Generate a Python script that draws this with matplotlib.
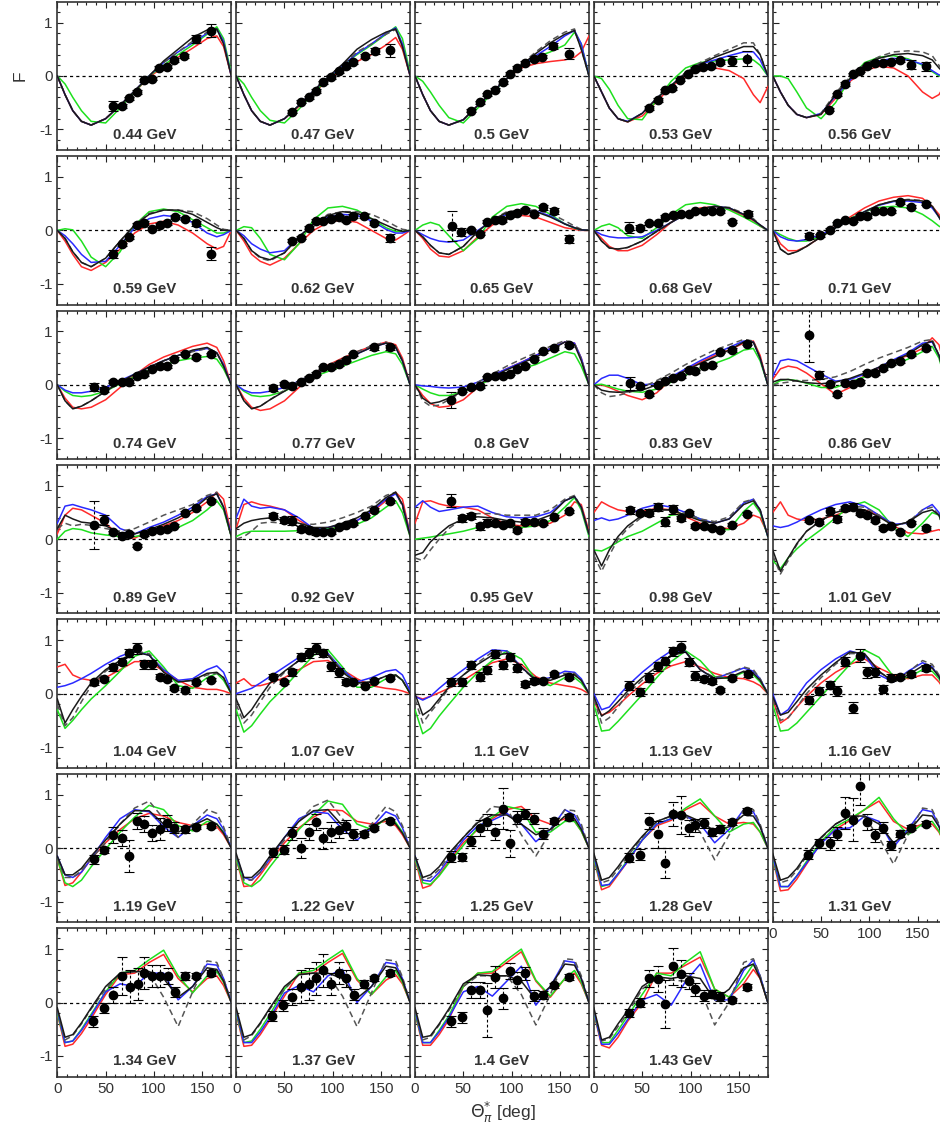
import matplotlib
matplotlib.use("Agg")
import matplotlib.pyplot as plt
from matplotlib.ticker import MultipleLocator

plt.rcParams['font.family'] = ['Liberation Sans', 'DejaVu Sans']

ENERGIES = ["0.44", "0.47", "0.5", "0.53", "0.56",
            "0.59", "0.62", "0.65", "0.68", "0.71",
            "0.74", "0.77", "0.8", "0.83", "0.86",
            "0.89", "0.92", "0.95", "0.98", "1.01",
            "1.04", "1.07", "1.1", "1.13", "1.16",
            "1.19", "1.22", "1.25", "1.28", "1.31",
            "1.34", "1.37", "1.4", "1.43"]

ANGLES = [0, 8, 16, 25, 35, 50, 65, 80, 95, 110, 125, 140, 155, 165, 172, 180]

BLACK = [
    [0, -0.35, -0.65, -0.85, -0.92, -0.8, -0.55, -0.28, 0.0, 0.28, 0.5, 0.72, 0.86, 0.88, 0.6, 0],
    [0, -0.35, -0.65, -0.85, -0.92, -0.8, -0.55, -0.28, -0.02, 0.22, 0.5, 0.68, 0.82, 0.88, 0.55, 0],
    [0, -0.35, -0.65, -0.85, -0.92, -0.82, -0.55, -0.3, -0.05, 0.2, 0.42, 0.62, 0.78, 0.85, 0.5, 0],
    [0, -0.3, -0.6, -0.8, -0.86, -0.7, -0.42, -0.18, 0.05, 0.22, 0.35, 0.45, 0.55, 0.55, 0.4, 0],
    [0, -0.3, -0.55, -0.72, -0.78, -0.72, -0.35, -0.05, 0.2, 0.33, 0.4, 0.42, 0.38, 0.3, 0.15, 0],
    [0, -0.15, -0.4, -0.6, -0.68, -0.52, -0.2, 0.1, 0.3, 0.38, 0.38, 0.3, 0.15, 0.05, 0.0, 0],
    [0, -0.15, -0.38, -0.5, -0.55, -0.42, -0.12, 0.12, 0.28, 0.35, 0.32, 0.22, 0.1, 0.02, -0.02, 0],
    [0, -0.12, -0.28, -0.42, -0.45, -0.3, -0.02, 0.2, 0.33, 0.38, 0.35, 0.25, 0.12, 0.05, 0.01, 0],
    [0, -0.2, -0.33, -0.35, -0.32, -0.2, -0.02, 0.15, 0.3, 0.4, 0.45, 0.42, 0.3, 0.2, 0.1, 0],
    [0, -0.35, -0.45, -0.4, -0.3, -0.12, 0.05, 0.2, 0.35, 0.48, 0.55, 0.57, 0.55, 0.45, 0.25, 0],
    [0, -0.3, -0.45, -0.4, -0.3, -0.12, 0.05, 0.2, 0.33, 0.45, 0.55, 0.65, 0.7, 0.6, 0.35, 0],
    [0, -0.3, -0.45, -0.4, -0.28, -0.12, 0.05, 0.2, 0.33, 0.45, 0.58, 0.7, 0.78, 0.7, 0.45, 0],
    [0, -0.25, -0.35, -0.32, -0.25, -0.12, 0.0, 0.15, 0.28, 0.4, 0.52, 0.65, 0.8, 0.75, 0.45, 0],
    [0, -0.1, -0.13, -0.14, -0.13, -0.1, 0.0, 0.13, 0.27, 0.4, 0.52, 0.65, 0.8, 0.8, 0.5, 0],
    [0.05, 0.1, 0.1, 0.07, 0.04, 0.02, 0.05, 0.12, 0.22, 0.33, 0.45, 0.57, 0.75, 0.82, 0.55, 0],
    [0.2, 0.45, 0.38, 0.32, 0.3, 0.25, 0.12, 0.1, 0.18, 0.28, 0.4, 0.55, 0.78, 0.85, 0.6, 0.05],
    [0.2, 0.3, 0.35, 0.38, 0.4, 0.35, 0.3, 0.22, 0.22, 0.3, 0.4, 0.55, 0.78, 0.88, 0.65, 0.05],
    [-0.3, -0.25, -0.05, 0.1, 0.25, 0.38, 0.42, 0.4, 0.35, 0.32, 0.35, 0.45, 0.72, 0.8, 0.6, 0.1],
    [-0.2, -0.5, -0.2, 0.05, 0.25, 0.45, 0.55, 0.55, 0.45, 0.35, 0.3, 0.38, 0.65, 0.72, 0.55, 0.05],
    [-0.2, -0.6, -0.35, -0.08, 0.15, 0.35, 0.5, 0.58, 0.55, 0.42, 0.25, 0.32, 0.5, 0.55, 0.45, 0.05],
    [-0.1, -0.55, -0.3, -0.05, 0.2, 0.45, 0.62, 0.78, 0.72, 0.4, 0.22, 0.25, 0.38, 0.4, 0.3, 0],
    [-0.1, -0.45, -0.3, -0.05, 0.2, 0.42, 0.62, 0.78, 0.72, 0.4, 0.2, 0.22, 0.33, 0.35, 0.25, 0],
    [0, -0.4, -0.3, -0.1, 0.12, 0.35, 0.55, 0.72, 0.75, 0.5, 0.25, 0.25, 0.35, 0.35, 0.25, 0],
    [-0.05, -0.42, -0.32, -0.15, 0.05, 0.3, 0.5, 0.72, 0.78, 0.45, 0.28, 0.3, 0.42, 0.38, 0.25, 0],
    [-0.05, -0.4, -0.35, -0.15, 0.08, 0.35, 0.58, 0.78, 0.75, 0.42, 0.22, 0.35, 0.52, 0.48, 0.32, 0],
    [-0.15, -0.5, -0.5, -0.38, -0.15, 0.15, 0.45, 0.7, 0.7, 0.45, 0.3, 0.42, 0.55, 0.45, 0.28, 0],
    [-0.1, -0.55, -0.55, -0.4, -0.15, 0.2, 0.5, 0.7, 0.72, 0.42, 0.25, 0.38, 0.55, 0.45, 0.28, 0],
    [-0.15, -0.55, -0.5, -0.35, -0.1, 0.2, 0.48, 0.62, 0.62, 0.45, 0.25, 0.35, 0.6, 0.55, 0.35, 0],
    [-0.1, -0.6, -0.55, -0.35, -0.1, 0.22, 0.5, 0.6, 0.62, 0.5, 0.32, 0.4, 0.62, 0.6, 0.4, 0],
    [-0.1, -0.6, -0.55, -0.38, -0.12, 0.2, 0.45, 0.6, 0.6, 0.45, 0.1, 0.3, 0.62, 0.6, 0.4, 0],
    [-0.1, -0.65, -0.6, -0.38, -0.1, 0.3, 0.55, 0.58, 0.58, 0.45, 0.1, 0.3, 0.65, 0.62, 0.4, 0],
    [-0.1, -0.65, -0.6, -0.38, -0.1, 0.3, 0.52, 0.55, 0.55, 0.45, 0.08, 0.3, 0.68, 0.65, 0.42, 0],
    [-0.1, -0.65, -0.62, -0.4, -0.12, 0.35, 0.52, 0.5, 0.5, 0.4, 0.05, 0.3, 0.72, 0.7, 0.45, 0],
    [-0.1, -0.7, -0.65, -0.4, -0.15, 0.3, 0.48, 0.45, 0.5, 0.45, 0.05, 0.25, 0.65, 0.72, 0.45, 0],
]

DASHED = [
    [0, -0.35, -0.65, -0.85, -0.92, -0.8, -0.55, -0.28, 0.0, 0.25, 0.45, 0.65, 0.82, 0.87, 0.6, 0],
    [0, -0.35, -0.65, -0.85, -0.92, -0.8, -0.55, -0.28, -0.02, 0.2, 0.45, 0.6, 0.78, 0.87, 0.55, 0],
    [0, -0.35, -0.65, -0.85, -0.92, -0.82, -0.55, -0.3, -0.05, 0.22, 0.45, 0.66, 0.82, 0.88, 0.5, 0],
    [0, -0.3, -0.6, -0.8, -0.86, -0.7, -0.42, -0.18, 0.06, 0.25, 0.38, 0.5, 0.62, 0.62, 0.4, 0],
    [0, -0.3, -0.55, -0.72, -0.78, -0.7, -0.32, -0.02, 0.22, 0.36, 0.45, 0.47, 0.45, 0.38, 0.2, 0],
    [0, -0.15, -0.4, -0.6, -0.68, -0.52, -0.2, 0.1, 0.32, 0.38, 0.38, 0.35, 0.22, 0.1, 0.02, 0],
    [0, -0.15, -0.38, -0.52, -0.57, -0.42, -0.12, 0.12, 0.3, 0.35, 0.35, 0.3, 0.18, 0.08, 0.02, 0],
    [0, -0.12, -0.28, -0.42, -0.45, -0.3, -0.02, 0.2, 0.35, 0.38, 0.38, 0.32, 0.18, 0.08, 0.02, 0],
    [0, -0.2, -0.33, -0.35, -0.32, -0.2, -0.02, 0.15, 0.3, 0.4, 0.45, 0.43, 0.32, 0.22, 0.1, 0],
    [0, -0.35, -0.45, -0.4, -0.3, -0.12, 0.05, 0.2, 0.35, 0.48, 0.55, 0.58, 0.56, 0.46, 0.25, 0],
    [0, -0.3, -0.45, -0.4, -0.3, -0.12, 0.05, 0.2, 0.33, 0.45, 0.55, 0.62, 0.68, 0.6, 0.35, 0],
    [0, -0.3, -0.45, -0.4, -0.28, -0.1, 0.07, 0.22, 0.36, 0.48, 0.62, 0.73, 0.8, 0.72, 0.45, 0],
    [0, -0.3, -0.4, -0.38, -0.28, -0.12, 0.05, 0.2, 0.35, 0.48, 0.6, 0.72, 0.83, 0.78, 0.48, 0],
    [0, -0.15, -0.22, -0.2, -0.15, -0.05, 0.08, 0.22, 0.38, 0.52, 0.65, 0.75, 0.85, 0.82, 0.5, 0],
    [0, 0.03, 0.05, 0.08, 0.08, 0.1, 0.15, 0.25, 0.38, 0.5, 0.6, 0.7, 0.82, 0.85, 0.55, 0],
    [0.2, 0.3, 0.25, 0.28, 0.26, 0.2, 0.15, 0.2, 0.32, 0.45, 0.55, 0.65, 0.82, 0.88, 0.6, 0.05],
    [0, 0.05, 0.15, 0.3, 0.32, 0.3, 0.28, 0.28, 0.32, 0.4, 0.5, 0.62, 0.82, 0.88, 0.62, 0.05],
    [-0.35, -0.4, -0.2, 0.0, 0.2, 0.4, 0.48, 0.48, 0.45, 0.45, 0.45, 0.55, 0.75, 0.82, 0.6, 0.1],
    [-0.3, -0.6, -0.3, 0.0, 0.2, 0.42, 0.55, 0.55, 0.48, 0.38, 0.33, 0.42, 0.7, 0.75, 0.55, 0.05],
    [-0.3, -0.65, -0.4, -0.1, 0.15, 0.35, 0.52, 0.62, 0.6, 0.45, 0.25, 0.32, 0.55, 0.6, 0.45, 0.05],
    [-0.2, -0.6, -0.45, -0.15, 0.15, 0.42, 0.62, 0.8, 0.75, 0.42, 0.22, 0.25, 0.35, 0.38, 0.3, 0],
    [-0.2, -0.55, -0.4, -0.15, 0.12, 0.4, 0.62, 0.82, 0.75, 0.42, 0.2, 0.22, 0.33, 0.35, 0.25, 0],
    [-0.1, -0.55, -0.35, -0.15, 0.1, 0.35, 0.58, 0.78, 0.78, 0.48, 0.25, 0.28, 0.38, 0.38, 0.25, 0],
    [-0.1, -0.55, -0.45, -0.25, 0.0, 0.25, 0.5, 0.72, 0.78, 0.45, 0.3, 0.38, 0.5, 0.45, 0.28, 0],
    [-0.1, -0.5, -0.45, -0.25, 0.0, 0.3, 0.55, 0.75, 0.75, 0.4, 0.25, 0.4, 0.62, 0.55, 0.35, 0],
    [-0.2, -0.55, -0.55, -0.42, -0.2, 0.1, 0.45, 0.75, 0.88, 0.55, 0.2, 0.45, 0.72, 0.65, 0.4, 0],
    [-0.15, -0.6, -0.6, -0.45, -0.2, 0.15, 0.5, 0.78, 0.9, 0.55, 0.2, 0.45, 0.78, 0.68, 0.42, 0],
    [-0.15, -0.6, -0.55, -0.4, -0.15, 0.2, 0.5, 0.78, 0.75, 0.25, -0.15, 0.3, 0.72, 0.7, 0.45, 0],
    [-0.15, -0.65, -0.6, -0.4, -0.15, 0.2, 0.5, 0.6, 0.6, 0.3, -0.22, 0.25, 0.72, 0.72, 0.45, 0],
    [-0.15, -0.65, -0.6, -0.42, -0.15, 0.18, 0.45, 0.6, 0.58, 0.2, -0.3, 0.25, 0.75, 0.72, 0.45, 0],
    [-0.15, -0.7, -0.62, -0.4, -0.12, 0.25, 0.55, 0.58, 0.55, 0.1, -0.45, 0.2, 0.78, 0.75, 0.45, 0],
    [-0.15, -0.7, -0.62, -0.4, -0.12, 0.25, 0.52, 0.55, 0.52, 0.12, -0.45, 0.18, 0.8, 0.78, 0.48, 0],
    [-0.15, -0.7, -0.65, -0.42, -0.15, 0.3, 0.5, 0.5, 0.5, 0.15, -0.42, 0.15, 0.82, 0.8, 0.5, 0],
    [-0.15, -0.72, -0.68, -0.45, -0.2, 0.25, 0.45, 0.42, 0.4, 0.25, -0.42, 0.0, 0.75, 0.82, 0.5, 0],
]

RED = [
    [0, -0.35, -0.65, -0.85, -0.92, -0.8, -0.55, -0.3, -0.02, 0.17, 0.35, 0.52, 0.7, 0.75, 0.55, 0],
    [0, -0.35, -0.65, -0.85, -0.92, -0.8, -0.57, -0.32, -0.08, 0.12, 0.27, 0.4, 0.58, 0.72, 0.5, 0],
    [0, -0.35, -0.65, -0.85, -0.92, -0.82, -0.55, -0.3, -0.05, 0.15, 0.23, 0.27, 0.3, 0.35, 0.45, 0.75],
    [0, -0.3, -0.6, -0.8, -0.86, -0.75, -0.48, -0.2, 0.0, 0.1, 0.15, 0.1, -0.05, -0.35, -0.5, -0.2],
    [0, -0.3, -0.55, -0.72, -0.78, -0.72, -0.42, -0.1, 0.1, 0.18, 0.15, 0.0, -0.3, -0.42, -0.35, -0.1],
    [0, -0.2, -0.45, -0.68, -0.75, -0.6, -0.35, -0.05, 0.12, 0.17, 0.1, -0.05, -0.25, -0.35, -0.3, 0],
    [0, -0.2, -0.45, -0.58, -0.65, -0.52, -0.25, 0.0, 0.15, 0.2, 0.15, 0.0, -0.15, -0.18, -0.1, 0],
    [0, -0.15, -0.35, -0.48, -0.5, -0.38, -0.12, 0.1, 0.22, 0.28, 0.25, 0.15, 0.05, 0.02, 0.0, 0],
    [0, -0.15, -0.3, -0.38, -0.38, -0.28, -0.08, 0.15, 0.32, 0.42, 0.45, 0.4, 0.28, 0.18, 0.08, 0],
    [0, -0.25, -0.38, -0.38, -0.3, -0.12, 0.08, 0.25, 0.42, 0.55, 0.62, 0.65, 0.6, 0.45, 0.3, 0],
    [0, -0.25, -0.42, -0.45, -0.42, -0.28, -0.05, 0.18, 0.38, 0.52, 0.62, 0.72, 0.78, 0.7, 0.45, 0],
    [0, -0.25, -0.42, -0.48, -0.45, -0.3, -0.05, 0.2, 0.37, 0.5, 0.62, 0.72, 0.8, 0.75, 0.5, 0],
    [0, -0.2, -0.35, -0.42, -0.4, -0.28, -0.05, 0.17, 0.3, 0.42, 0.55, 0.68, 0.8, 0.78, 0.5, 0],
    [0, 0.0, -0.05, -0.12, -0.2, -0.28, -0.15, 0.1, 0.28, 0.42, 0.55, 0.65, 0.78, 0.82, 0.55, 0],
    [0.1, 0.3, 0.35, 0.32, 0.22, 0.02, -0.18, -0.05, 0.18, 0.32, 0.45, 0.55, 0.68, 0.88, 0.75, 0.2],
    [0.1, 0.45, 0.58, 0.55, 0.45, 0.3, 0.05, 0.02, 0.15, 0.25, 0.35, 0.5, 0.7, 0.88, 0.75, 0.1],
    [0.2, 0.65, 0.7, 0.65, 0.62, 0.55, 0.35, 0.2, 0.2, 0.28, 0.35, 0.5, 0.72, 0.88, 0.75, 0.1],
    [0.3, 0.7, 0.72, 0.66, 0.62, 0.6, 0.55, 0.4, 0.28, 0.25, 0.25, 0.3, 0.45, 0.7, 0.65, 0.15],
    [0.5, 0.7, 0.62, 0.55, 0.52, 0.52, 0.58, 0.55, 0.42, 0.3, 0.22, 0.2, 0.3, 0.45, 0.4, 0.1],
    [0.5, 0.7, 0.45, 0.38, 0.35, 0.38, 0.45, 0.55, 0.55, 0.45, 0.25, 0.12, 0.1, 0.15, 0.18, 0.1],
    [0.5, 0.55, 0.35, 0.28, 0.25, 0.3, 0.45, 0.6, 0.6, 0.42, 0.25, 0.12, 0.08, 0.08, 0.05, 0],
    [0.2, 0.28, 0.15, 0.15, 0.2, 0.3, 0.45, 0.6, 0.62, 0.45, 0.28, 0.15, 0.1, 0.08, 0.05, 0],
    [-0.05, -0.1, -0.05, 0.02, 0.1, 0.25, 0.42, 0.58, 0.65, 0.55, 0.32, 0.2, 0.15, 0.12, 0.08, 0],
    [-0.15, -0.4, -0.35, -0.22, -0.05, 0.18, 0.38, 0.52, 0.6, 0.5, 0.38, 0.3, 0.28, 0.22, 0.15, 0],
    [-0.1, -0.55, -0.45, -0.25, -0.05, 0.2, 0.4, 0.55, 0.65, 0.48, 0.35, 0.28, 0.35, 0.35, 0.22, 0],
    [-0.2, -0.7, -0.65, -0.45, -0.2, 0.1, 0.35, 0.55, 0.65, 0.6, 0.48, 0.42, 0.45, 0.4, 0.25, 0],
    [-0.2, -0.72, -0.7, -0.5, -0.25, 0.1, 0.38, 0.58, 0.72, 0.7, 0.5, 0.45, 0.5, 0.42, 0.25, 0],
    [-0.2, -0.75, -0.7, -0.5, -0.25, 0.1, 0.35, 0.55, 0.72, 0.78, 0.55, 0.45, 0.55, 0.5, 0.32, 0],
    [-0.2, -0.78, -0.72, -0.5, -0.25, 0.15, 0.42, 0.52, 0.72, 0.85, 0.6, 0.45, 0.48, 0.45, 0.3, 0],
    [-0.2, -0.8, -0.78, -0.58, -0.3, 0.1, 0.35, 0.52, 0.72, 0.88, 0.5, 0.35, 0.45, 0.45, 0.3, 0],
    [-0.2, -0.82, -0.78, -0.58, -0.3, 0.15, 0.52, 0.55, 0.75, 0.9, 0.45, 0.2, 0.45, 0.5, 0.32, 0],
    [-0.2, -0.82, -0.8, -0.6, -0.32, 0.12, 0.55, 0.55, 0.75, 0.92, 0.42, 0.15, 0.42, 0.52, 0.35, 0],
    [-0.2, -0.8, -0.8, -0.6, -0.32, 0.3, 0.55, 0.55, 0.75, 0.95, 0.4, 0.1, 0.45, 0.55, 0.35, 0],
    [-0.2, -0.8, -0.85, -0.65, -0.35, 0.0, 0.55, 0.55, 0.7, 0.85, 0.25, 0.1, 0.35, 0.62, 0.45, 0],
]

BLUE = [
    [0, -0.35, -0.65, -0.85, -0.92, -0.8, -0.55, -0.28, 0.0, 0.25, 0.45, 0.62, 0.8, 0.88, 0.65, 0],
    [0, -0.35, -0.65, -0.85, -0.92, -0.8, -0.55, -0.28, -0.03, 0.2, 0.42, 0.6, 0.8, 0.9, 0.6, 0],
    [0, -0.35, -0.65, -0.85, -0.92, -0.82, -0.55, -0.3, -0.05, 0.2, 0.38, 0.55, 0.75, 0.85, 0.6, 0],
    [0, -0.3, -0.6, -0.8, -0.85, -0.7, -0.42, -0.18, 0.05, 0.22, 0.3, 0.38, 0.45, 0.45, 0.3, 0],
    [0, -0.3, -0.55, -0.72, -0.78, -0.7, -0.38, -0.08, 0.18, 0.28, 0.33, 0.3, 0.22, 0.1, 0.02, 0],
    [0, -0.1, -0.25, -0.45, -0.6, -0.58, -0.28, 0.05, 0.22, 0.28, 0.25, 0.15, -0.05, -0.12, -0.08, 0],
    [0, -0.1, -0.25, -0.35, -0.42, -0.38, -0.12, 0.12, 0.25, 0.3, 0.28, 0.18, 0.02, -0.05, -0.05, 0],
    [0, -0.08, -0.15, -0.2, -0.22, -0.18, 0.0, 0.18, 0.3, 0.38, 0.36, 0.27, 0.12, 0.05, 0.01, 0],
    [0, -0.08, -0.12, -0.14, -0.14, -0.12, 0.0, 0.15, 0.3, 0.4, 0.45, 0.42, 0.3, 0.2, 0.1, 0],
    [0, -0.12, -0.18, -0.2, -0.17, -0.08, 0.05, 0.2, 0.35, 0.47, 0.54, 0.55, 0.52, 0.42, 0.25, 0],
    [0, -0.1, -0.15, -0.15, -0.12, -0.05, 0.08, 0.2, 0.33, 0.45, 0.55, 0.63, 0.68, 0.6, 0.38, 0],
    [0, -0.1, -0.15, -0.15, -0.12, -0.05, 0.07, 0.2, 0.33, 0.45, 0.58, 0.7, 0.78, 0.7, 0.45, 0],
    [0, -0.02, -0.03, -0.05, -0.06, -0.04, 0.05, 0.18, 0.3, 0.42, 0.55, 0.68, 0.8, 0.78, 0.5, 0],
    [0, 0.12, 0.18, 0.18, 0.12, 0.0, 0.02, 0.15, 0.3, 0.45, 0.58, 0.7, 0.82, 0.8, 0.5, 0],
    [0.15, 0.45, 0.48, 0.45, 0.35, 0.2, 0.07, 0.1, 0.2, 0.33, 0.47, 0.6, 0.78, 0.8, 0.55, 0.15],
    [0.3, 0.62, 0.65, 0.6, 0.55, 0.45, 0.2, 0.1, 0.22, 0.32, 0.45, 0.6, 0.8, 0.85, 0.6, 0.1],
    [0.4, 0.75, 0.62, 0.58, 0.6, 0.55, 0.4, 0.2, 0.22, 0.28, 0.35, 0.52, 0.75, 0.85, 0.65, 0.1],
    [0.6, 0.72, 0.6, 0.52, 0.55, 0.6, 0.62, 0.5, 0.42, 0.4, 0.42, 0.5, 0.72, 0.8, 0.6, 0.1],
    [0.35, 0.4, 0.35, 0.38, 0.45, 0.58, 0.65, 0.6, 0.5, 0.38, 0.3, 0.38, 0.68, 0.75, 0.55, 0.05],
    [0.25, 0.22, 0.25, 0.32, 0.42, 0.55, 0.65, 0.7, 0.62, 0.45, 0.28, 0.3, 0.55, 0.65, 0.5, 0.05],
    [0.12, 0.15, 0.2, 0.28, 0.38, 0.55, 0.7, 0.8, 0.72, 0.45, 0.25, 0.28, 0.45, 0.52, 0.4, 0.05],
    [0, 0.05, 0.1, 0.2, 0.32, 0.5, 0.68, 0.82, 0.75, 0.45, 0.22, 0.3, 0.42, 0.45, 0.35, 0.05],
    [-0.05, -0.12, -0.05, 0.1, 0.25, 0.45, 0.65, 0.82, 0.8, 0.5, 0.25, 0.3, 0.42, 0.4, 0.28, 0],
    [0, -0.3, -0.25, -0.05, 0.15, 0.4, 0.62, 0.8, 0.78, 0.45, 0.28, 0.38, 0.48, 0.42, 0.28, 0],
    [0, -0.4, -0.3, -0.05, 0.2, 0.45, 0.65, 0.8, 0.72, 0.35, 0.22, 0.42, 0.58, 0.5, 0.32, 0],
    [-0.15, -0.5, -0.55, -0.45, -0.2, 0.2, 0.55, 0.72, 0.68, 0.4, 0.2, 0.42, 0.62, 0.55, 0.35, 0],
    [-0.15, -0.55, -0.6, -0.45, -0.2, 0.2, 0.55, 0.68, 0.65, 0.35, 0.15, 0.38, 0.68, 0.6, 0.38, 0],
    [-0.15, -0.6, -0.62, -0.45, -0.2, 0.15, 0.42, 0.52, 0.65, 0.45, 0.12, 0.35, 0.72, 0.62, 0.4, 0],
    [-0.15, -0.7, -0.68, -0.48, -0.25, 0.15, 0.45, 0.55, 0.6, 0.45, 0.1, 0.35, 0.72, 0.68, 0.42, 0],
    [-0.15, -0.72, -0.72, -0.52, -0.28, 0.08, 0.35, 0.38, 0.6, 0.5, 0.02, 0.35, 0.72, 0.68, 0.42, 0],
    [-0.15, -0.75, -0.72, -0.52, -0.25, 0.2, 0.35, 0.3, 0.55, 0.55, 0.05, 0.3, 0.72, 0.7, 0.45, 0],
    [-0.15, -0.75, -0.75, -0.55, -0.28, 0.18, 0.32, 0.2, 0.5, 0.62, 0.0, 0.3, 0.75, 0.72, 0.45, 0],
    [-0.15, -0.75, -0.75, -0.55, -0.28, 0.2, 0.3, 0.12, 0.4, 0.68, -0.05, 0.3, 0.78, 0.75, 0.45, 0],
    [-0.15, -0.78, -0.78, -0.58, -0.32, 0.05, 0.15, -0.05, 0.4, 0.72, 0.05, 0.05, 0.6, 0.8, 0.5, 0],
]

GREEN = [
    [0, -0.15, -0.4, -0.65, -0.85, -0.88, -0.6, -0.3, 0.0, 0.2, 0.4, 0.58, 0.78, 0.92, 0.7, 0.05],
    [0, -0.15, -0.4, -0.65, -0.83, -0.88, -0.62, -0.32, -0.05, 0.2, 0.4, 0.58, 0.78, 0.92, 0.7, 0.05],
    [0, -0.1, -0.3, -0.55, -0.78, -0.88, -0.6, -0.32, -0.05, 0.2, 0.35, 0.45, 0.58, 0.82, 0.6, 0],
    [0, -0.05, -0.25, -0.55, -0.8, -0.82, -0.45, -0.1, 0.15, 0.25, 0.28, 0.3, 0.32, 0.3, 0.2, 0],
    [0, 0.0, -0.05, -0.3, -0.6, -0.8, -0.5, -0.05, 0.25, 0.35, 0.38, 0.32, 0.2, 0.08, 0.0, 0],
    [0, 0.03, 0.01, -0.2, -0.5, -0.68, -0.4, 0.1, 0.35, 0.4, 0.35, 0.2, 0.05, -0.05, -0.05, 0],
    [0, 0.07, 0.05, -0.15, -0.45, -0.55, -0.25, 0.2, 0.42, 0.45, 0.38, 0.22, 0.05, -0.02, -0.02, 0],
    [0, 0.1, 0.15, 0.1, -0.1, -0.38, -0.15, 0.25, 0.45, 0.5, 0.45, 0.3, 0.12, 0.04, 0.01, 0],
    [0, 0.08, 0.12, 0.05, -0.1, -0.15, 0.05, 0.3, 0.48, 0.52, 0.48, 0.38, 0.25, 0.15, 0.08, 0],
    [0, -0.08, -0.15, -0.2, -0.2, -0.12, 0.05, 0.22, 0.35, 0.43, 0.45, 0.42, 0.3, 0.18, 0.08, 0],
    [0, -0.12, -0.2, -0.22, -0.2, -0.12, 0.02, 0.15, 0.27, 0.37, 0.45, 0.5, 0.53, 0.48, 0.3, 0],
    [0, -0.12, -0.2, -0.22, -0.2, -0.12, 0.02, 0.15, 0.25, 0.35, 0.45, 0.55, 0.62, 0.58, 0.38, 0],
    [0, -0.08, -0.15, -0.2, -0.2, -0.13, -0.02, 0.12, 0.22, 0.3, 0.38, 0.5, 0.62, 0.58, 0.35, 0],
    [0, 0.01, -0.03, -0.08, -0.12, -0.14, -0.08, 0.05, 0.18, 0.3, 0.4, 0.5, 0.65, 0.68, 0.45, 0],
    [0, 0.08, 0.1, 0.08, 0.03, -0.05, -0.05, 0.05, 0.15, 0.26, 0.38, 0.48, 0.62, 0.72, 0.5, 0],
    [0, 0.15, 0.2, 0.18, 0.12, 0.08, 0.05, 0.05, 0.1, 0.15, 0.22, 0.35, 0.55, 0.72, 0.55, 0.05],
    [0.05, 0.12, 0.15, 0.15, 0.15, 0.15, 0.16, 0.18, 0.2, 0.22, 0.28, 0.4, 0.6, 0.72, 0.5, 0.05],
    [0, 0.02, 0.04, 0.07, 0.1, 0.15, 0.22, 0.25, 0.25, 0.22, 0.25, 0.35, 0.6, 0.78, 0.55, 0.05],
    [-0.2, -0.22, -0.15, -0.05, 0.05, 0.15, 0.3, 0.45, 0.48, 0.38, 0.18, 0.18, 0.52, 0.68, 0.5, 0.05],
    [-0.4, -0.55, -0.35, -0.18, -0.02, 0.18, 0.4, 0.62, 0.7, 0.55, 0.22, 0.05, 0.3, 0.5, 0.45, 0.05],
    [-0.3, -0.65, -0.5, -0.3, -0.1, 0.15, 0.42, 0.7, 0.8, 0.5, 0.15, 0.1, 0.3, 0.38, 0.25, 0],
    [-0.3, -0.72, -0.6, -0.38, -0.15, 0.12, 0.42, 0.72, 0.82, 0.5, 0.12, 0.12, 0.28, 0.35, 0.25, 0],
    [-0.3, -0.75, -0.65, -0.42, -0.2, 0.12, 0.4, 0.62, 0.8, 0.65, 0.25, 0.15, 0.3, 0.3, 0.2, 0],
    [-0.2, -0.7, -0.68, -0.52, -0.32, -0.02, 0.3, 0.6, 0.8, 0.62, 0.32, 0.28, 0.4, 0.35, 0.22, 0],
    [-0.2, -0.7, -0.68, -0.55, -0.35, -0.05, 0.25, 0.55, 0.82, 0.68, 0.32, 0.3, 0.45, 0.42, 0.28, 0],
    [-0.2, -0.65, -0.72, -0.6, -0.35, -0.02, 0.3, 0.58, 0.8, 0.72, 0.42, 0.32, 0.5, 0.45, 0.3, 0],
    [-0.2, -0.65, -0.72, -0.6, -0.35, 0.0, 0.35, 0.62, 0.88, 0.82, 0.45, 0.35, 0.55, 0.48, 0.3, 0],
    [-0.2, -0.65, -0.68, -0.52, -0.28, 0.05, 0.38, 0.58, 0.78, 0.72, 0.3, 0.3, 0.5, 0.5, 0.32, 0],
    [-0.2, -0.72, -0.68, -0.48, -0.22, 0.15, 0.45, 0.55, 0.75, 0.92, 0.6, 0.3, 0.45, 0.48, 0.3, 0],
    [-0.2, -0.72, -0.72, -0.52, -0.25, 0.12, 0.4, 0.55, 0.72, 0.95, 0.55, 0.25, 0.45, 0.5, 0.32, 0],
    [-0.2, -0.75, -0.72, -0.5, -0.22, 0.2, 0.55, 0.6, 0.8, 0.98, 0.5, 0.18, 0.5, 0.58, 0.38, 0],
    [-0.2, -0.75, -0.72, -0.5, -0.22, 0.25, 0.55, 0.6, 0.8, 0.98, 0.45, 0.15, 0.48, 0.6, 0.38, 0],
    [-0.2, -0.75, -0.75, -0.52, -0.25, 0.3, 0.55, 0.58, 0.8, 1.0, 0.42, 0.12, 0.45, 0.6, 0.38, 0],
    [-0.2, -0.75, -0.75, -0.52, -0.25, 0.15, 0.55, 0.5, 0.75, 0.95, 0.25, 0.1, 0.45, 0.72, 0.48, 0],
]

PT_X = [
    [58, 67, 74, 82, 90, 98, 105, 113, 121, 131, 143, 159],
    [58, 67, 75, 83, 90, 98, 106, 114, 121, 133, 144, 159],
    [58, 67, 74, 83, 91, 98, 106, 114, 123, 131, 143, 159],
    [57, 66, 74, 81, 89, 97, 105, 113, 121, 131, 143, 158],
    [58, 67, 75, 83, 90, 98, 106, 114, 122, 132, 143, 159],
    [58, 67, 74, 82, 90, 98, 106, 113, 122, 132, 143, 159],
    [58, 67, 75, 83, 90, 98, 106, 114, 121, 132, 143, 159],
    [38, 48, 58, 67, 75, 83, 90, 98, 106, 114, 123, 132, 144, 159],
    [36, 48, 57, 66, 74, 82, 90, 98, 105, 114, 122, 131, 143, 159],
    [38, 49, 59, 67, 75, 83, 90, 98, 106, 114, 122, 132, 143, 159],
    [38, 48, 58, 67, 74, 82, 90, 98, 106, 113, 121, 132, 143, 159],
    [38, 49, 58, 67, 75, 83, 90, 98, 106, 114, 121, 143, 159],
    [37, 49, 58, 67, 75, 83, 91, 98, 106, 114, 123, 132, 144, 159],
    [37, 48, 57, 66, 74, 82, 90, 98, 105, 114, 122, 131, 143, 158],
    [38, 48, 59, 67, 75, 83, 90, 98, 106, 114, 122, 132, 143, 159],
    [38, 48, 58, 67, 74, 82, 90, 98, 106, 113, 121, 132, 143, 159],
    [38, 49, 58, 67, 75, 83, 90, 98, 106, 114, 121, 133, 143, 159],
    [37, 49, 58, 67, 75, 83, 91, 98, 106, 114, 123, 132, 144, 159],
    [37, 48, 57, 66, 74, 82, 90, 98, 105, 114, 122, 131, 143, 158],
    [38, 48, 59, 67, 75, 83, 90, 98, 106, 114, 122, 132, 143, 159],
    [38, 48, 58, 67, 74, 82, 90, 98, 106, 113, 121, 132, 143, 159],
    [38, 49, 58, 67, 75, 83, 90, 98, 106, 114, 121, 133, 143, 159],
    [37, 49, 58, 67, 75, 83, 91, 98, 106, 114, 123, 132, 144, 159],
    [36, 48, 57, 66, 74, 82, 90, 98, 105, 114, 122, 131, 143, 159],
    [38, 48, 59, 67, 75, 83, 90, 98, 106, 114, 122, 132, 143, 159],
    [38, 48, 58, 67, 74, 82, 90, 98, 106, 113, 121, 132, 143, 159],
    [38, 49, 58, 67, 75, 83, 90, 98, 106, 114, 121, 132, 143, 159],
    [37, 49, 58, 67, 75, 83, 91, 98, 106, 114, 123, 132, 144, 159],
    [36, 48, 57, 66, 74, 82, 90, 98, 105, 114, 122, 131, 143, 158],
    [37, 48, 59, 67, 75, 83, 90, 98, 106, 114, 122, 132, 143, 159],
    [37, 48, 58, 67, 75, 83, 90, 98, 106, 114, 122, 132, 143, 159],
    [37, 48, 58, 67, 75, 83, 90, 98, 106, 114, 122, 132, 143, 159],
    [37, 49, 58, 67, 75, 83, 91, 98, 106, 114, 123, 132, 144, 159],
    [36, 48, 57, 66, 74, 82, 90, 98, 105, 114, 122, 131, 143, 158],
]

PT_Y = [
    [-0.56, -0.56, -0.42, -0.3, -0.08, -0.05, 0.15, 0.17, 0.3, 0.37, 0.69, 0.85],
    [-0.67, -0.48, -0.4, -0.28, -0.12, -0.02, 0.09, 0.18, 0.26, 0.37, 0.47, 0.48],
    [-0.65, -0.49, -0.34, -0.26, -0.12, 0.04, 0.15, 0.25, 0.31, 0.36, 0.56, 0.42],
    [-0.6, -0.45, -0.27, -0.23, -0.07, 0.03, 0.13, 0.16, 0.18, 0.26, 0.28, 0.32],
    [-0.63, -0.34, -0.15, 0.03, 0.1, 0.18, 0.25, 0.25, 0.27, 0.3, 0.21, 0.18],
    [-0.44, -0.26, -0.13, 0.11, 0.14, 0.03, 0.11, 0.14, 0.25, 0.22, 0.13, -0.44],
    [-0.19, -0.14, 0.05, 0.18, 0.18, 0.21, 0.25, 0.19, 0.27, 0.27, 0.14, -0.14],
    [0.09, -0.03, 0.0, -0.06, 0.16, 0.19, 0.19, 0.28, 0.33, 0.38, 0.31, 0.43, 0.36, -0.16],
    [0.05, 0.05, 0.13, 0.13, 0.25, 0.28, 0.31, 0.31, 0.36, 0.36, 0.36, 0.36, 0.16, 0.31],
    [-0.11, -0.09, 0.01, 0.13, 0.19, 0.18, 0.27, 0.27, 0.36, 0.36, 0.36, 0.53, 0.44, 0.5],
    [-0.04, -0.09, 0.06, 0.05, 0.06, 0.16, 0.2, 0.3, 0.35, 0.35, 0.49, 0.58, 0.52, 0.57],
    [-0.06, 0.02, -0.03, 0.05, 0.13, 0.21, 0.33, 0.33, 0.39, 0.47, 0.57, 0.7, 0.7],
    [-0.28, -0.11, -0.05, -0.03, 0.14, 0.16, 0.17, 0.21, 0.3, 0.36, 0.49, 0.63, 0.69, 0.74],
    [0.03, -0.03, -0.18, 0.0, 0.08, 0.13, 0.16, 0.28, 0.25, 0.36, 0.38, 0.62, 0.65, 0.77],
    [0.93, 0.18, 0.01, -0.18, 0.03, 0.02, 0.06, 0.22, 0.22, 0.31, 0.4, 0.44, 0.57, 0.69],
    [0.27, 0.36, 0.13, 0.06, 0.1, -0.12, 0.1, 0.16, 0.18, 0.19, 0.25, 0.5, 0.58, 0.72],
    [0.44, 0.36, 0.35, 0.19, 0.18, 0.13, 0.14, 0.13, 0.22, 0.27, 0.3, 0.43, 0.55, 0.71],
    [0.72, 0.39, 0.44, 0.24, 0.31, 0.3, 0.27, 0.3, 0.17, 0.33, 0.33, 0.3, 0.42, 0.52],
    [0.54, 0.49, 0.5, 0.6, 0.33, 0.56, 0.39, 0.49, 0.25, 0.25, 0.21, 0.18, 0.27, 0.48],
    [0.36, 0.33, 0.52, 0.38, 0.58, 0.61, 0.5, 0.46, 0.36, 0.21, 0.25, 0.14, 0.31, 0.21],
    [0.21, 0.28, 0.49, 0.6, 0.76, 0.85, 0.55, 0.55, 0.32, 0.28, 0.11, 0.07, 0.21, 0.26],
    [0.32, 0.22, 0.4, 0.69, 0.76, 0.85, 0.76, 0.51, 0.4, 0.22, 0.22, 0.15, 0.24, 0.3],
    [0.22, 0.22, 0.54, 0.32, 0.44, 0.74, 0.54, 0.69, 0.48, 0.18, 0.24, 0.24, 0.36, 0.32],
    [0.15, 0.03, 0.3, 0.51, 0.61, 0.79, 0.88, 0.59, 0.34, 0.28, 0.24, 0.07, 0.3, 0.36],
    [-0.12, 0.05, 0.16, 0.05, 0.6, -0.26, 0.71, 0.4, 0.4, 0.09, 0.3, 0.32, 0.36, 0.48],
    [-0.21, -0.04, 0.24, 0.18, -0.14, 0.51, 0.46, 0.28, 0.36, 0.47, 0.38, 0.35, 0.4, 0.41],
    [-0.08, -0.03, 0.28, 0.0, 0.31, 0.48, 0.18, 0.3, 0.33, 0.41, 0.26, 0.26, 0.38, 0.51],
    [-0.16, -0.17, 0.13, 0.38, 0.49, 0.3, 0.74, 0.09, 0.57, 0.64, 0.55, 0.27, 0.51, 0.58],
    [-0.18, -0.12, 0.51, 0.26, -0.28, 0.64, 0.62, 0.38, 0.43, 0.47, 0.3, 0.36, 0.49, 0.7],
    [-0.12, 0.09, 0.09, 0.27, 0.65, 0.53, 1.16, 0.49, 0.24, 0.38, 0.05, 0.27, 0.38, 0.46],
    [-0.35, -0.1, 0.15, 0.5, 0.3, 0.35, 0.55, 0.5, 0.5, 0.5, 0.2, 0.5, 0.5, 0.55],
    [-0.25, -0.05, 0.1, 0.3, 0.35, 0.45, 0.6, 0.35, 0.55, 0.45, 0.15, 0.35, 0.45, 0.55],
    [-0.35, -0.28, 0.24, 0.24, -0.14, 0.48, 0.08, 0.59, 0.43, 0.55, 0.13, 0.14, 0.32, 0.48],
    [-0.2, 0.0, 0.45, 0.44, -0.03, 0.68, 0.54, 0.4, 0.25, 0.13, 0.16, 0.11, 0.04, 0.29],
]

PT_ERR = [
    [0.1, 0.04, 0.03, 0.03, 0.03, 0.03, 0.03, 0.03, 0.03, 0.04, 0.08, 0.12],
    [0.03, 0.03, 0.03, 0.03, 0.03, 0.03, 0.03, 0.03, 0.03, 0.04, 0.05, 0.12],
    [0.03, 0.03, 0.03, 0.03, 0.03, 0.03, 0.03, 0.03, 0.03, 0.03, 0.06, 0.1],
    [0.03, 0.03, 0.03, 0.03, 0.03, 0.03, 0.03, 0.03, 0.03, 0.04, 0.1, 0.14],
    [0.03, 0.03, 0.03, 0.03, 0.03, 0.03, 0.03, 0.03, 0.03, 0.04, 0.08, 0.08],
    [0.08, 0.03, 0.03, 0.03, 0.03, 0.03, 0.03, 0.03, 0.03, 0.03, 0.05, 0.12],
    [0.03, 0.03, 0.03, 0.03, 0.03, 0.03, 0.03, 0.03, 0.03, 0.03, 0.03, 0.08],
    [0.28, 0.08, 0.03, 0.03, 0.03, 0.03, 0.03, 0.03, 0.03, 0.03, 0.03, 0.04, 0.06, 0.08],
    [0.1, 0.05, 0.03, 0.03, 0.03, 0.03, 0.03, 0.03, 0.03, 0.03, 0.03, 0.03, 0.03, 0.05],
    [0.06, 0.03, 0.03, 0.03, 0.03, 0.03, 0.03, 0.03, 0.03, 0.03, 0.03, 0.03, 0.03, 0.03],
    [0.07, 0.04, 0.03, 0.03, 0.03, 0.03, 0.03, 0.03, 0.03, 0.03, 0.03, 0.03, 0.03, 0.03],
    [0.05, 0.03, 0.03, 0.03, 0.03, 0.03, 0.03, 0.03, 0.03, 0.03, 0.03, 0.04, 0.04],
    [0.15, 0.03, 0.03, 0.03, 0.03, 0.03, 0.03, 0.03, 0.03, 0.03, 0.03, 0.03, 0.03, 0.03],
    [0.12, 0.03, 0.03, 0.03, 0.03, 0.03, 0.03, 0.03, 0.03, 0.03, 0.03, 0.03, 0.03, 0.03],
    [0.5, 0.08, 0.03, 0.03, 0.03, 0.03, 0.03, 0.03, 0.03, 0.03, 0.03, 0.03, 0.03, 0.03],
    [0.45, 0.1, 0.03, 0.05, 0.04, 0.03, 0.03, 0.03, 0.03, 0.03, 0.03, 0.03, 0.03, 0.03],
    [0.05, 0.05, 0.08, 0.05, 0.05, 0.05, 0.05, 0.03, 0.03, 0.03, 0.03, 0.03, 0.03, 0.03],
    [0.12, 0.06, 0.06, 0.06, 0.06, 0.05, 0.05, 0.04, 0.04, 0.04, 0.03, 0.03, 0.03, 0.03],
    [0.06, 0.04, 0.06, 0.08, 0.08, 0.08, 0.05, 0.04, 0.04, 0.04, 0.03, 0.03, 0.03, 0.03],
    [0.04, 0.04, 0.06, 0.06, 0.05, 0.06, 0.04, 0.04, 0.04, 0.04, 0.03, 0.03, 0.03, 0.03],
    [0.04, 0.04, 0.06, 0.06, 0.08, 0.1, 0.08, 0.08, 0.05, 0.04, 0.04, 0.03, 0.03, 0.03],
    [0.04, 0.04, 0.06, 0.08, 0.1, 0.1, 0.08, 0.08, 0.08, 0.05, 0.04, 0.03, 0.03, 0.03],
    [0.08, 0.08, 0.08, 0.08, 0.08, 0.08, 0.08, 0.08, 0.08, 0.06, 0.05, 0.04, 0.04, 0.04],
    [0.08, 0.08, 0.08, 0.08, 0.08, 0.08, 0.1, 0.08, 0.08, 0.06, 0.05, 0.04, 0.04, 0.04],
    [0.08, 0.08, 0.08, 0.1, 0.08, 0.1, 0.12, 0.1, 0.08, 0.08, 0.06, 0.05, 0.05, 0.05],
    [0.08, 0.06, 0.15, 0.15, 0.3, 0.15, 0.15, 0.15, 0.2, 0.15, 0.1, 0.06, 0.04, 0.04],
    [0.08, 0.08, 0.12, 0.18, 0.15, 0.15, 0.2, 0.18, 0.15, 0.12, 0.1, 0.06, 0.04, 0.04],
    [0.1, 0.08, 0.1, 0.15, 0.15, 0.15, 0.38, 0.25, 0.12, 0.1, 0.1, 0.1, 0.05, 0.05],
    [0.08, 0.1, 0.15, 0.25, 0.28, 0.22, 0.35, 0.15, 0.12, 0.1, 0.08, 0.08, 0.05, 0.05],
    [0.08, 0.08, 0.12, 0.12, 0.3, 0.4, 0.35, 0.15, 0.12, 0.1, 0.08, 0.06, 0.05, 0.05],
    [0.1, 0.1, 0.15, 0.35, 0.3, 0.3, 0.3, 0.2, 0.2, 0.15, 0.1, 0.08, 0.05, 0.05],
    [0.1, 0.1, 0.15, 0.3, 0.3, 0.3, 0.3, 0.2, 0.2, 0.15, 0.1, 0.08, 0.05, 0.05],
    [0.1, 0.1, 0.15, 0.15, 0.5, 0.2, 0.2, 0.15, 0.15, 0.12, 0.1, 0.08, 0.05, 0.05],
    [0.08, 0.08, 0.15, 0.25, 0.45, 0.35, 0.25, 0.15, 0.12, 0.1, 0.08, 0.08, 0.05, 0.05],
]

# ---------------------------------------------------------------- layout
W, H = 940, 1128
fig = plt.figure(figsize=(W / 100, H / 100), dpi=100)

COL_X0, COL_STEP, PW = 57.3, 178.85, 174.0
ROW_Y0, ROW_STEP, PH = 1.7, 154.43, 148.5

TXT = '#333333'
styles = [
    (RED, dict(color='#ff2a2a', lw=1.1, ls='-')),
    (GREEN, dict(color='#1ee01e', lw=1.1, ls='-')),
    (BLUE, dict(color='#2a2aff', lw=1.1, ls='-')),
    (DASHED, dict(color='#555555', lw=1.1, ls=(0, (4, 2.5)))),
    (BLACK, dict(color='#1a1a1a', lw=1.1, ls='-')),
]

for k, en in enumerate(ENERGIES):
    r, c = divmod(k, 5)
    left = COL_X0 + c * COL_STEP
    top = ROW_Y0 + r * ROW_STEP
    ax = fig.add_axes([left / W, 1 - (top + PH) / H, PW / W, PH / H])
    ax.set_xlim(0, 180)
    ax.set_ylim(-1.39, 1.39)
    ax.axhline(0, color='black', lw=0.9, ls=(0, (2.5, 2.5)), zorder=1)
    for arr, st in styles:
        ax.plot(ANGLES, arr[k], zorder=3, **st)
    eb = ax.errorbar(PT_X[k], PT_Y[k], yerr=PT_ERR[k], fmt='o', color='black',
                     ms=6, elinewidth=0.8, capsize=3.5, capthick=0.8, zorder=5)
    for col in eb[2]:
        col.set_linestyle((0, (2.5, 2)))
    ax.text(90, -1.1, en + " GeV", ha='center', va='center', fontsize=10.8,
            fontweight='bold', color=TXT)

    ax.xaxis.set_major_locator(MultipleLocator(50))
    ax.xaxis.set_minor_locator(MultipleLocator(10))
    ax.yaxis.set_major_locator(MultipleLocator(1))
    ax.yaxis.set_minor_locator(MultipleLocator(0.2))
    ax.tick_params(which='both', direction='in', top=True, right=True,
                   colors='#222222', labelcolor=TXT, labelsize=11, width=0.8)
    ax.tick_params(which='major', length=4.5)
    ax.tick_params(which='minor', length=2.5)
    for sp in ax.spines.values():
        sp.set_linewidth(1.2)
        sp.set_color('#333333')

    show_x = (r == 6) or (r == 5 and c == 4)
    ax.tick_params(labelbottom=show_x, labelleft=(c == 0))
    if c == 0:
        ax.set_yticks([-1, 0, 1])
        ax.set_yticklabels(['-1', '0', '1'])

fig.text(20 / W, 1 - 76 / H, 'F', ha='center', va='center', fontsize=12.5,
         color=TXT, rotation=90)
fig.text(503 / W, 1 - 1112 / H, r'$\Theta^{*}_{\pi}$ [deg]', ha='center',
         va='center', fontsize=12.5, color=TXT)

fig.savefig('out.png', dpi=100)
